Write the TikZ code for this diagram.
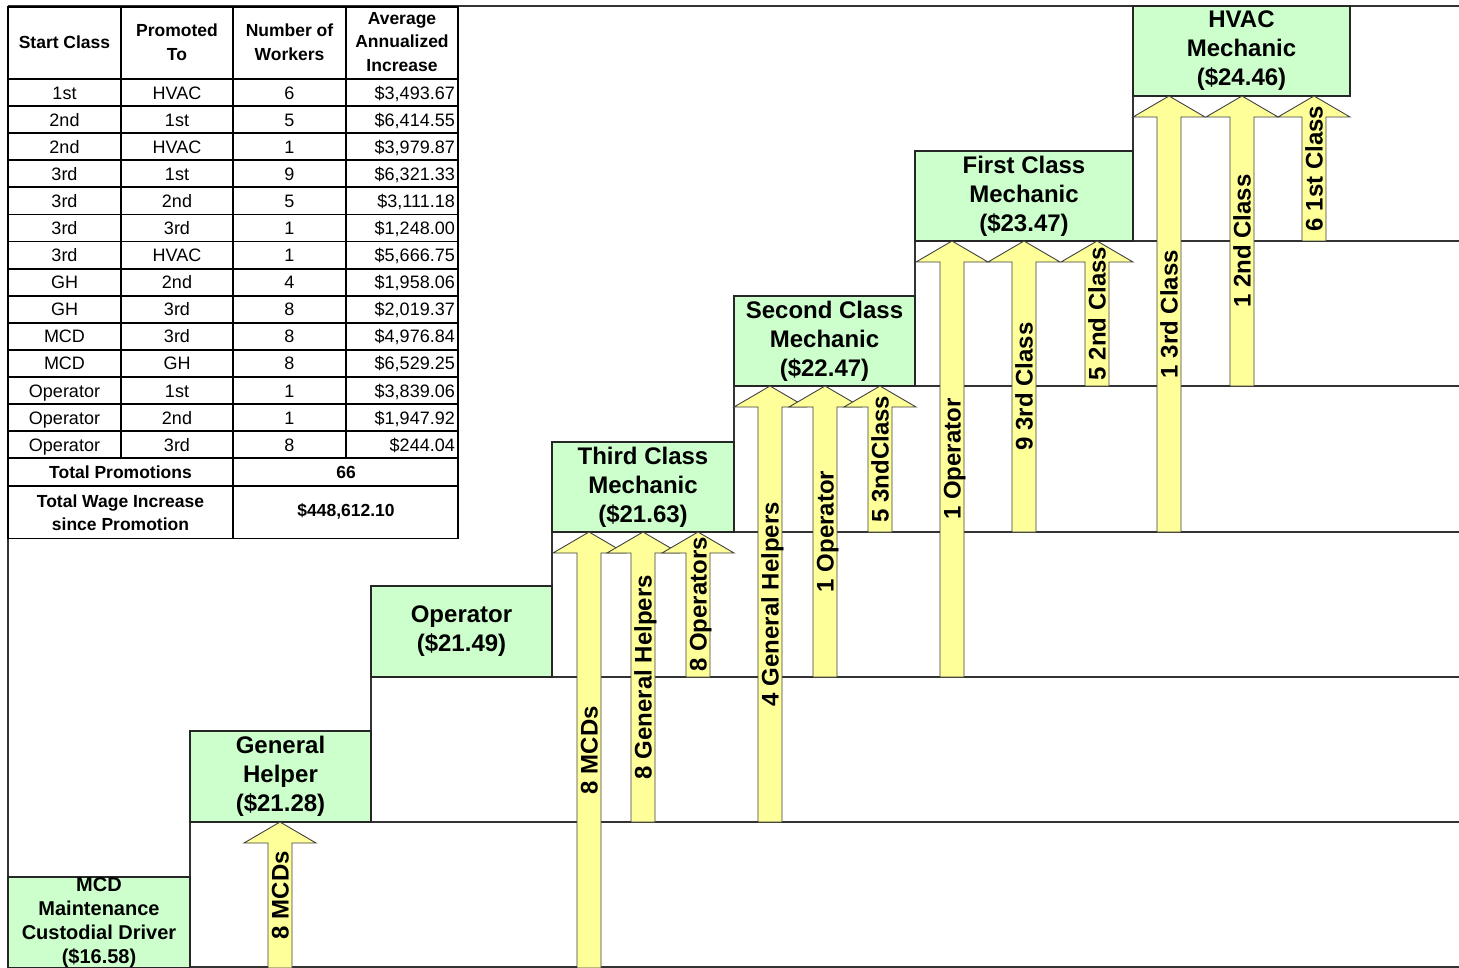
\documentclass[tikz,border=0pt]{standalone}
\usepackage{fontspec}
\setmainfont{Liberation Sans}
\definecolor{boxgreen}{HTML}{CCFFCC}
\definecolor{arrowyellow}{HTML}{FFFF99}
\tikzset{
  gridline/.style={draw=black!80, line width=1.3pt},
  stepbox/.style={draw=black!85, line width=1.2pt, fill=boxgreen, inner sep=0pt, align=center, font=\fontsize{24}{29}\selectfont\bfseries},
  promo/.style={fill=arrowyellow, draw=black!75, line width=0.9pt, line join=miter},
  promolabel/.style={rotate=90, inner sep=0pt, text height=17pt, text depth=0pt, font=\fontsize{24}{28}\selectfont\bfseries},
  tline/.style={draw=black, line width=1.8pt},
  cell/.style={inner sep=0pt, font=\fontsize{18}{22}\selectfont, text height=13pt, text depth=0pt},
  hcell/.style={inner sep=0pt, align=center, font=\fontsize{17.5}{23.5}\selectfont\bfseries},
}
\newcommand\promarrow[5]{%
  \draw[promo] (#2-12,#4) -- (#2-12,#3+21) -- (#2-36,#3+21) -- (#2,#3) -- (#2+36,#3+21) -- (#2+12,#3+21) -- (#2+12,#4) -- cycle;
  \node[promolabel] (#1) at (#2,{(#3+#4)/2}) {#5};
}
\newcommand\trow[5]{%
  \node[cell] (ra#1) at (64.5,{79+27.09*(#1-0.5)}) {#2};
  \node[cell] (rb#1) at (177,{79+27.09*(#1-0.5)}) {#3};
  \node[cell] (rc#1) at (289.5,{79+27.09*(#1-0.5)}) {#4};
  \node[cell,anchor=east] (rd#1) at (455,{79+27.09*(#1-0.5)}) {#5};
}
\begin{document}
\begin{tikzpicture}[x=1pt,y=-1pt]
\useasboundingbox (0,0) rectangle (1459,968);
\fill[white] (0,0) rectangle (1459,968);
% chart frame and staircase
\draw[gridline] (8,6) -- (1459,6);
\draw[gridline] (8,6) -- (8,968);
\draw[gridline] (8,967) -- (1459,967);
\draw[gridline] (190,731) -- (190,968);
\draw[gridline] (190,822) -- (1459,822);
\draw[gridline] (371,586) -- (371,822);
\draw[gridline] (371,677) -- (1459,677);
\draw[gridline] (552,442) -- (552,677);
\draw[gridline] (552,532) -- (1459,532);
\draw[gridline] (734,296) -- (734,532);
\draw[gridline] (734,386) -- (1459,386);
\draw[gridline] (915,151) -- (915,386);
\draw[gridline] (915,241) -- (1459,241);
\draw[gridline] (1133,6) -- (1133,241);
% boxes
\node[stepbox, minimum width=182pt, minimum height=91pt, font=\fontsize{20}{24}\selectfont\bfseries] (mcd) at (99,922.5) {MCD\\Maintenance\\Custodial Driver\\(\$16.58)};
\node[stepbox, minimum width=181pt, minimum height=91pt] (gh) at (280.5,776.5) {General\\Helper\\(\$21.28)};
\node[stepbox, minimum width=181pt, minimum height=91pt] (op) at (461.5,631.5) {Operator\\(\$21.49)};
\node[stepbox, minimum width=182pt, minimum height=90pt] (third) at (643,487) {Third Class\\Mechanic\\(\$21.63)};
\node[stepbox, minimum width=181pt, minimum height=90pt] (second) at (824.5,341) {Second Class\\Mechanic\\(\$22.47)};
\node[stepbox, minimum width=218pt, minimum height=90pt] (first) at (1024,196) {First Class\\Mechanic\\(\$23.47)};
\node[stepbox, minimum width=217pt, minimum height=90pt] (hvac) at (1241.5,51) {HVAC\\Mechanic\\(\$24.46)};
% arrows
\promarrow{a1}{280}{822}{968}{8 MCDs}
\promarrow{a2}{589}{532}{968}{8 MCDs}
\promarrow{a3}{643}{532}{822}{8 General Helpers}
\promarrow{a4}{698}{532}{677}{8 Operators}
\promarrow{a5}{770}{386}{822}{4 General Helpers}
\promarrow{a6}{825}{386}{677}{1 Operator}
\promarrow{a7}{880}{386}{532}{5 3ndClass}
\promarrow{a8}{952}{241}{677}{1 Operator}
\promarrow{a9}{1024}{241}{532}{9 3rd Class}
\promarrow{a10}{1097}{241}{386}{5 2nd Class}
\promarrow{a11}{1169}{96}{532}{1 3rd Class}
\promarrow{a12}{1242}{96}{386}{1 2nd Class}
\promarrow{a13}{1314}{96}{241}{6 1st Class}
% table
\fill[white] (8,7) rectangle (458,538.5);
\draw[tline] (8,7) rectangle (458,538.5);
\draw[tline] (8,79) -- (458,79);
\foreach \k in {1,...,14} \draw[tline] (8,{79+27.09*\k}) -- (458,{79+27.09*\k});
\draw[tline] (8,486) -- (458,486);
\draw[tline] (121,7) -- (121,458.3);
\draw[tline] (233,7) -- (233,538.5);
\draw[tline] (346,7) -- (346,458.3);
\node[hcell] (h1) at (64.5,42) {Start Class};
\node[hcell] (h2) at (177,42) {Promoted\\To};
\node[hcell] (h3) at (289.5,42) {Number of\\Workers};
\node[hcell] (h4) at (402,42) {Average\\Annualized\\Increase};
\trow{1}{1st}{HVAC}{6}{\$3,493.67}
\trow{2}{2nd}{1st}{5}{\$6,414.55}
\trow{3}{2nd}{HVAC}{1}{\$3,979.87}
\trow{4}{3rd}{1st}{9}{\$6,321.33}
\trow{5}{3rd}{2nd}{5}{\$3,111.18}
\trow{6}{3rd}{3rd}{1}{\$1,248.00}
\trow{7}{3rd}{HVAC}{1}{\$5,666.75}
\trow{8}{GH}{2nd}{4}{\$1,958.06}
\trow{9}{GH}{3rd}{8}{\$2,019.37}
\trow{10}{MCD}{3rd}{8}{\$4,976.84}
\trow{11}{MCD}{GH}{8}{\$6,529.25}
\trow{12}{Operator}{1st}{1}{\$3,839.06}
\trow{13}{Operator}{2nd}{1}{\$1,947.92}
\trow{14}{Operator}{3rd}{8}{\$244.04}
\node[hcell] (tp) at (120.5,472.2) {Total Promotions};
\node[hcell] (tpv) at (346,472.2) {66};
\node[hcell] (tw) at (120.5,512.5) {Total Wage Increase\\since Promotion};
\node[hcell] (twv) at (346,511) {\$448,612.10};
\end{tikzpicture}
\end{document}
